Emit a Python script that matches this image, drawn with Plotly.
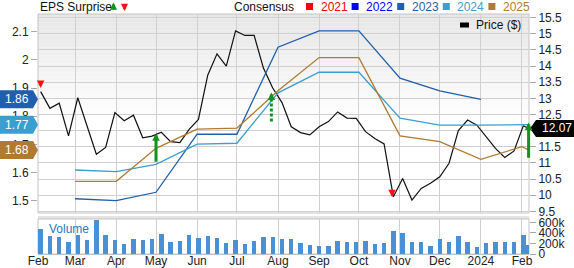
import plotly.graph_objects as go
import pandas as pd

# ---------------- data ----------------
week_dates = [d.strftime("%Y-%m-%d") for d in pd.date_range("2023-02-03", periods=53, freq="7D")] + ["2024-02-06"]

price = [13.21, 12.69, 12.85, 11.84, 13.02, 12.12, 11.27, 11.48, 12.56, 12.31,
         12.48, 11.78, 11.83, 11.95, 11.66, 11.63, 12.04, 12.35, 13.72, 14.38,
         14.00, 15.09, 14.95, 14.95, 13.94, 13.32, 12.87, 12.12, 11.94, 11.87,
         12.12, 12.28, 12.58, 12.39, 12.38, 11.97, 11.76, 11.59, 9.95, 10.52,
         9.85, 10.21, 10.37, 10.57, 10.99, 12.00, 12.33, 12.17, 11.81, 11.45,
         11.17, 11.37, 12.15, 12.07]

volume_k = [475, 345, 315, 237, 359, 275, 640, 359, 262, 198,
            295, 268, 282, 384, 223, 243, 359, 301, 334, 307,
            204, 262, 198, 243, 326, 326, 280, 295, 210, 165,
            159, 159, 249, 223, 229, 256, 198, 210, 437, 392,
            237, 223, 146, 282, 223, 340, 237, 126, 210, 223,
            223, 229, 353, 178]

cons_dates_2023 = ["2023-03-01", "2023-04-01", "2023-05-01", "2023-06-01", "2023-07-01",
                   "2023-08-01", "2023-09-01", "2023-10-01", "2023-11-01", "2023-12-01",
                   "2024-01-01"]
cons_dates_fwd = cons_dates_2023 + ["2024-02-01", "2024-02-06"]

eps_2023 = [1.507, 1.500, 1.530, 1.736, 1.736, 2.045, 2.103, 2.103, 1.935, 1.890, 1.86]
eps_2024 = [1.609, 1.603, 1.629, 1.701, 1.704, 1.883, 1.956, 1.956, 1.793, 1.768, 1.768, 1.768, 1.77]
eps_2025 = [1.569, 1.569, 1.686, 1.754, 1.758, 1.890, 2.008, 2.008, 1.730, 1.710, 1.647, 1.692, 1.68]

tick_dates = ["2023-02-01", "2023-03-01", "2023-04-01", "2023-05-01", "2023-06-01",
              "2023-07-01", "2023-08-01", "2023-09-01", "2023-10-01", "2023-11-01",
              "2023-12-01", "2024-01-01", "2024-02-01"]
tick_text = ["Feb", "Mar", "Apr", "May", "Jun", "Jul", "Aug", "Sep", "Oct", "Nov", "Dec", "2024", "Feb"]

eps_ticks = [1.5, 1.6, 1.7, 1.8, 1.9, 2.0, 2.1]
eps_tick_text = ["1.5", "1.6", "1.7", "1.8", "1.9", "2", "2.1"]
price_ticks = [9.5, 10, 10.5, 11, 11.5, 12, 12.5, 13, 13.5, 14, 14.5, 15, 15.5]
price_tick_text = ["9.5", "10", "10.5", "11", "11.5", "12", "12.5", "13", "13.5", "14", "14.5", "15", "15.5"]
vol_ticks = [0, 200000, 400000, 600000]
vol_tick_text = ["0", "200k", "400k", "600k"]

surprise_dates = ["2023-02-03", "2023-05-01", "2023-07-27", "2023-10-26", "2024-02-06"]
surprise_tip = [13.32, 11.92, 13.18, 9.94, 12.25]
surprise_base = [13.57, 10.99, 12.28, 10.17, 11.11]
surprise_up = [False, True, True, False, True]
surprise_dashed = [False, False, True, False, False]

legend_years = ["2021", "2022", "2023", "2024", "2025"]
legend_colors = ["#ff0000", "#0000ff", "#1f5fad", "#3a9fd0", "#b07b31"]

# ---------------- style ----------------
FONT = "Liberation Sans, Arial, sans-serif"
W, H = 574, 268
ML, MR, MT, MB = 38, 45, 14, 14
PW, PH = W - ML - MR, H - MT - MB
C2023, C2024, C2025 = "#1f5fad", "#3a9fd0", "#b07b31"
GREEN, RED = "#14911e", "#ff1010"
GRID = "#d0d0d0"

def px_x(px):
    return (px - ML) / PW

def px_y(py):
    return (H - MB - py) / PH

price_dom = [px_y(213), 1.0]
vol_dom = [0.0, px_y(219)]

fig = go.Figure()

fig.add_trace(go.Bar(x=week_dates, y=[v * 1000 for v in volume_k], yaxis="y3",
                     marker=dict(color="#4a90d4", line=dict(width=0)),
                     width=3.3 * 86400000, showlegend=False))

for dates, vals, col in [(cons_dates_2023, eps_2023, C2023),
                         (cons_dates_fwd, eps_2024, C2024),
                         (cons_dates_fwd, eps_2025, C2025)]:
    fig.add_trace(go.Scatter(x=dates, y=vals, yaxis="y2", mode="lines",
                             line=dict(color=col, width=1.3), showlegend=False))

fig.add_trace(go.Scatter(x=week_dates, y=price, yaxis="y", mode="lines",
                         line=dict(color="#111111", width=1.2), showlegend=False))

shapes = []
# background gradient of the price panel
N = 26
top, bot = 14, 122
for i in range(N):
    y0 = top + (bot - top) * i / N
    y1 = top + (bot - top) * (i + 1) / N
    t = i / (N - 1)
    c = int(231 + (255 - 231) * t)
    shapes.append(dict(type="rect", xref="paper", yref="paper", x0=0, x1=1,
                       y0=px_y(y1), y1=px_y(y0), fillcolor=f"rgb({c},{c},{c})",
                       line=dict(width=0), layer="below"))
# separator band
shapes.append(dict(type="rect", xref="paper", yref="paper", x0=0, x1=1,
                   y0=px_y(219), y1=px_y(216), fillcolor="#e4e4e4", line=dict(width=0), layer="below"))
# panel borders
shapes.append(dict(type="rect", xref="paper", yref="paper", x0=0, x1=1,
                   y0=price_dom[0], y1=price_dom[1], line=dict(color="#c4c4c4", width=1), layer="below"))
shapes.append(dict(type="rect", xref="paper", yref="paper", x0=0, x1=1,
                   y0=vol_dom[0], y1=vol_dom[1], line=dict(color="#c4c4c4", width=1), layer="below"))

# consensus badges (left)
for v, col in [(eps_2023[-1], C2023), (eps_2024[-1], C2024), (eps_2025[-1], C2025)]:
    shapes.append(dict(type="path", xref="paper", yref="y2", xsizemode="pixel", ysizemode="pixel",
                       xanchor=0, yanchor=v, path="M-38,-9 L-5,-9 L0,0 L-5,9 L-38,9 Z",
                       fillcolor=col, line=dict(width=0), layer="above"))
# price badge (right)
shapes.append(dict(type="path", xref="paper", yref="y", xsizemode="pixel", ysizemode="pixel",
                   xanchor=1, yanchor=price[-1], path="M1,0 L7,-8.5 L45,-8.5 L45,8.5 L7,8.5 Z",
                   fillcolor="#000000", line=dict(width=0), layer="above"))

# dashed surprise stems
for d, tip, base, up, dashed in zip(surprise_dates, surprise_tip, surprise_base, surprise_up, surprise_dashed):
    if dashed:
        shapes.append(dict(type="line", xref="x", yref="y", x0=d, x1=d, y0=base, y1=tip - 0.2,
                           line=dict(color=GREEN, width=3, dash="3px,2px"), layer="above"))

# legend squares
leg_x0 = 306
leg_step = 45.6
for i, col in enumerate(legend_colors):
    sx = leg_x0 + i * leg_step
    shapes.append(dict(type="rect", xref="paper", yref="paper", x0=px_x(sx), x1=px_x(sx + 7),
                       y0=px_y(10), y1=px_y(3), fillcolor=col, line=dict(width=0)))
# price legend swatch
shapes.append(dict(type="rect", xref="paper", yref="paper", x0=px_x(460), x1=px_x(469),
                   y0=px_y(27.5), y1=px_y(22.5), fillcolor="#000000", line=dict(width=0)))

annotations = []
txt = dict(family=FONT, size=12, color="#111111")
annotations.append(dict(xref="paper", yref="paper", x=0, y=px_y(7), text="EPS Surprise",
                        showarrow=False, xanchor="left", yanchor="middle", font=txt))
annotations.append(dict(xref="paper", yref="paper", x=px_x(232), y=px_y(7), text="Consensus",
                        showarrow=False, xanchor="left", yanchor="middle", font=txt))
for i, (yr, col) in enumerate(zip(legend_years, legend_colors)):
    sx = leg_x0 + i * leg_step + 12.5
    annotations.append(dict(xref="paper", yref="paper", x=px_x(sx), y=px_y(7), text=yr,
                            showarrow=False, xanchor="left", yanchor="middle",
                            font=dict(family=FONT, size=12, color=col)))
annotations.append(dict(xref="paper", yref="paper", x=px_x(474), y=px_y(25), text="Price ($)",
                        showarrow=False, xanchor="left", yanchor="middle", font=txt))
annotations.append(dict(xref="paper", yref="paper", x=px_x(47), y=px_y(229), text="Volume",
                        showarrow=False, xanchor="left", yanchor="middle",
                        font=dict(family=FONT, size=12, color="#2a78c2")))
# title arrows
annotations.append(dict(xref="paper", yref="paper", x=px_x(113.5), y=px_y(2.5), ax=0, ay=8.5, text="",
                        showarrow=True, arrowhead=2, arrowwidth=2.2, arrowsize=0.65, arrowcolor=GREEN, standoff=0))
annotations.append(dict(xref="paper", yref="paper", x=px_x(124.5), y=px_y(11), ax=0, ay=-8.5, text="",
                        showarrow=True, arrowhead=2, arrowwidth=2.2, arrowsize=0.65, arrowcolor=RED, standoff=0))
# surprise arrows
for d, tip, base, up, dashed in zip(surprise_dates, surprise_tip, surprise_base, surprise_up, surprise_dashed):
    col = GREEN if up else RED
    if up:
        ay = tip - 0.25 if dashed else base
        annotations.append(dict(x=d, y=tip, ax=d, ay=ay, xref="x", yref="y", axref="x", ayref="y",
                                text="", showarrow=True, arrowhead=2, arrowwidth=3, arrowsize=0.5,
                                arrowcolor=col, standoff=0))
    else:
        annotations.append(dict(x=d, y=tip, ax=d, ay=base, xref="x", yref="y", axref="x", ayref="y",
                                text="", showarrow=True, arrowhead=2, arrowwidth=2.2, arrowsize=0.68,
                                arrowcolor=col, standoff=0))
# badge texts
for v in [eps_2023[-1], eps_2024[-1], eps_2025[-1]]:
    annotations.append(dict(xref="paper", yref="y2", x=0, y=v, xshift=-21.5, text=f"{v:.2f}",
                            showarrow=False, xanchor="center", yanchor="middle",
                            font=dict(family=FONT, size=12, color="#ffffff")))
annotations.append(dict(xref="paper", yref="y", x=1, y=price[-1], xshift=28, text=f"{price[-1]:.2f}",
                        showarrow=False, xanchor="center", yanchor="middle",
                        font=dict(family=FONT, size=12, color="#ffffff")))

tickfont = dict(family=FONT, size=12, color="#222222")
fig.update_layout(
    width=W, height=H,
    margin=dict(l=ML, r=MR, t=MT, b=MB, autoexpand=False),
    paper_bgcolor="#ffffff", plot_bgcolor="rgba(0,0,0,0)",
    showlegend=False, bargap=0,
    xaxis=dict(type="date", range=["2023-02-01", "2024-02-06 07:00"], anchor="y3",
               tickvals=tick_dates, ticktext=tick_text, tickfont=tickfont,
               showgrid=True, gridcolor=GRID, gridwidth=1, ticks="", showline=True,
               linecolor="#c4c4c4", zeroline=False, fixedrange=True, ticklabelstandoff=-4),
    yaxis=dict(domain=price_dom, range=[9.448, 15.615], side="right", anchor="x",
               tickvals=price_ticks, ticktext=price_tick_text, tickfont=tickfont,
               showgrid=True, gridcolor=GRID, gridwidth=1, ticks="outside", ticklen=6,
               tickcolor="#aaaaaa", zeroline=False, showline=False),
    yaxis2=dict(domain=price_dom, range=[1.4564, 2.1628], side="left", overlaying="y", anchor="x",
                tickvals=eps_ticks, ticktext=eps_tick_text, tickfont=tickfont,
                showgrid=False, ticks="outside", ticklen=6, tickcolor="#aaaaaa",
                zeroline=False, showline=False),
    yaxis3=dict(domain=vol_dom, range=[0, 666000], side="right", anchor="x",
                tickvals=vol_ticks, ticktext=vol_tick_text, tickfont=tickfont,
                showgrid=False, ticks="outside", ticklen=6, tickcolor="#aaaaaa",
                zeroline=False, showline=False),
    shapes=shapes, annotations=annotations,
)

fig.write_html("out.html")
